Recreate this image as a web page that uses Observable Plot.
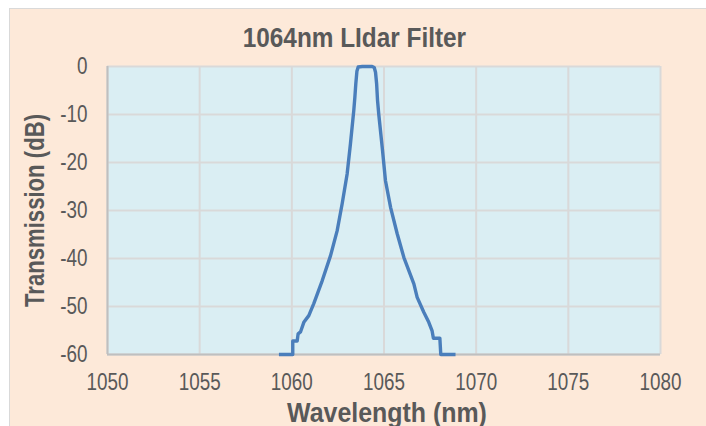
<!DOCTYPE html>
<html>
<head>
<meta charset="utf-8">
<script src="https://cdn.jsdelivr.net/npm/d3@7"></script>
<script src="https://cdn.jsdelivr.net/npm/@observablehq/plot@0.6"></script>
<style>
  html, body { margin: 0; padding: 0; background: #ffffff; }
  #card {
    position: absolute; left: 9px; top: 8px; width: 697px; height: 418px;
    background: #FDE9D9; border-left: 1px solid #D9D9D9; border-top: 1px solid #D9D9D9;
    box-sizing: border-box; overflow: hidden;
  }
  #title {
    position: absolute; left: -4px; width: 696px; top: 15px; line-height: 28px;
    text-align: center; font-family: "Liberation Sans", Arial, sans-serif;
    font-weight: bold; font-size: 28px; color: #595959;
  }
  #title span { display: inline-block; transform: scaleX(0.87); transform-origin: center; }
  #plot { position: absolute; left: 0; top: 47px; }
</style>
</head>
<body>
<div id="card">
  <div id="title"><span id="titleText"></span></div>
  <div id="plot"></div>
</div>
<script>
const wavelength = [1059.30, 1060.05, 1060.05, 1060.29, 1060.34, 1060.47, 1060.65, 1060.92, 1061.19, 1061.65, 1062.10, 1062.46, 1062.73, 1063.00, 1063.18, 1063.36, 1063.42, 1063.47, 1063.53, 1063.60, 1063.82, 1064.36, 1064.47, 1064.54, 1064.60, 1064.65, 1064.72, 1064.91, 1065.08, 1065.36, 1065.72, 1066.08, 1066.62, 1066.80, 1067.16, 1067.43, 1067.61, 1067.68, 1068.03, 1068.08, 1068.88];
const transmission = [-60, -60, -57.2, -57.2, -55.7, -55.3, -53.3, -51.9, -49.4, -44.6, -39.4, -34.2, -28.6, -22.4, -16.1, -9.2, -6.4, -3.6, -1.0, -0.1, 0, 0, -0.2, -1.2, -3.6, -7.1, -10.1, -17.1, -23.8, -29.4, -34.9, -39.8, -45.3, -48.1, -51.2, -53.3, -55.1, -56.6, -56.6, -60, -60];
const xTicks = [1050, 1055, 1060, 1065, 1070, 1075, 1080];
const yTicks = [0, -10, -20, -30, -40, -50, -60];
const titleText = "1064nm LIdar Filter";
const xLabel = "Wavelength (nm)";
const yLabel = "Transmission (dB)";

document.getElementById("titleText").textContent = titleText;
const data = wavelength.map((w, i) => ({w, t: transmission[i]}));
const font = '"Liberation Sans", Arial, sans-serif';

const chart = Plot.plot({
  width: 696, height: 370,
  marginLeft: 97, marginRight: 46, marginTop: 10, marginBottom: 72,
  style: {background: "transparent", fontFamily: font, color: "#595959", overflow: "visible"},
  x: {domain: [1050, 1080], ticks: xTicks},
  y: {domain: [-60, 0], ticks: yTicks},
  marks: [
    Plot.frame({fill: "#DAEEF3", stroke: null}),
    Plot.gridX(xTicks, {stroke: "#D9D9D9", strokeOpacity: 1, strokeWidth: 2}),
    Plot.gridY(yTicks, {stroke: "#D9D9D9", strokeOpacity: 1, strokeWidth: 2}),
    Plot.ruleY([-60], {stroke: "#BFBFBF", strokeWidth: 2}),
    Plot.ruleX([1050], {stroke: "#BFBFBF", strokeWidth: 2}),
    Plot.axisX(xTicks, {tickSize: 0, tickPadding: 19, fontSize: 23, label: null, fill: "#595959", tickFormat: d => String(d), className: "tk"}),
    Plot.axisY(yTicks, {tickSize: 0, tickPadding: 20, fontSize: 23, label: null, fill: "#595959", tickFormat: d => String(d), className: "tk"}),
    Plot.line(data, {x: "w", y: "t", stroke: "#4A7EBB", strokeWidth: 3.4, strokeLinejoin: "round", strokeLinecap: "butt", curve: "linear"}),
    Plot.text([xLabel], {frameAnchor: "bottom", textAnchor: "middle", lineAnchor: "middle", dy: 59, dx: 3, text: d => d, fontSize: 28, fontWeight: "bold", fill: "#595959", className: "xl"}),
    Plot.text([yLabel], {frameAnchor: "left", textAnchor: "middle", lineAnchor: "middle", dx: -72, rotate: -90, text: d => d, fontSize: 27, fontWeight: "bold", fill: "#595959", className: "yl"})
  ]
});
// condense text horizontally (narrow typeface look of the original)
const squeeze = (sel, k) => chart.querySelectorAll(sel).forEach(t => {
  const tr = t.getAttribute("transform") || "";
  t.setAttribute("transform", (tr + ` scale(${k},1)`).trim());
});
squeeze(".tk text", 0.82);
squeeze(".xl text", 0.89);
squeeze(".yl text", 0.82);
document.getElementById("plot").appendChild(chart);
</script>
</body>
</html>
